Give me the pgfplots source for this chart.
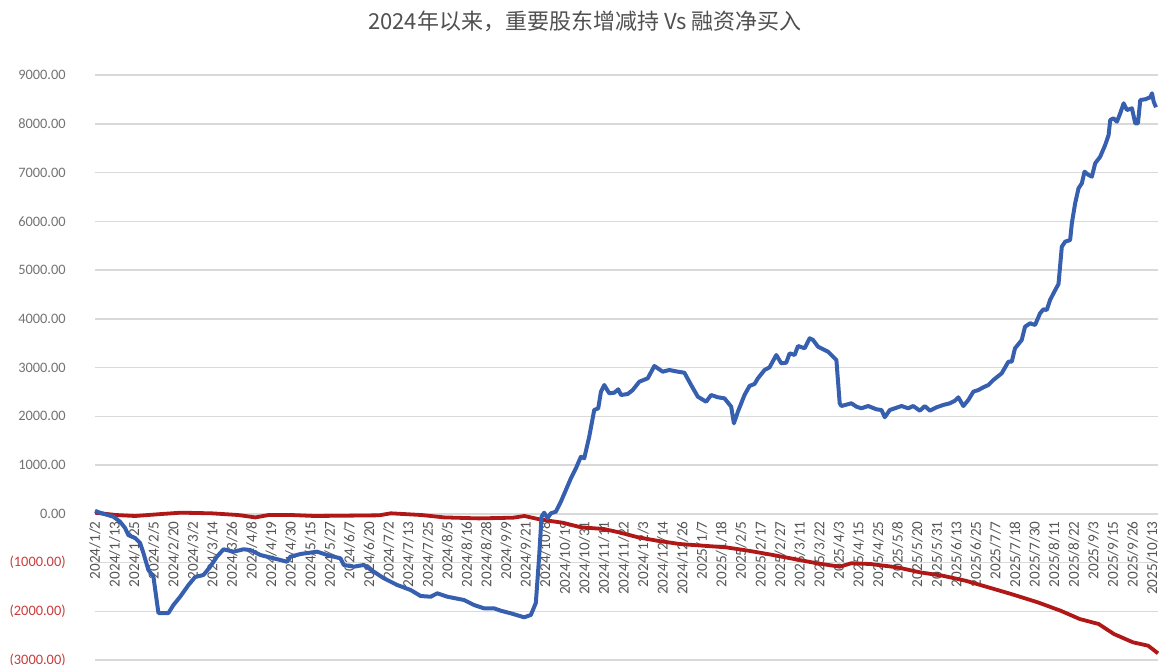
\documentclass[border=0pt]{standalone}
\usepackage{pgfplots}
\pgfplotsset{compat=1.18}
\usepackage{fontspec}
\setmainfont{Carlito}
\newfontfamily\cjk{Noto Sans CJK SC}
\definecolor{bluel}{RGB}{55,95,175}
\definecolor{redl}{RGB}{176,24,24}
\definecolor{gridc}{RGB}{217,217,217}
\definecolor{labg}{RGB}{115,115,115}
\definecolor{labx}{RGB}{85,85,85}
\definecolor{labr}{RGB}{200,60,60}
\definecolor{titleg}{RGB}{80,80,80}
\begin{document}
\begin{tikzpicture}
\path[use as bounding box] (0,0) rectangle (585bp,332.5bp);
\node[font=\cjk\fontsize{11bp}{13bp}\selectfont, text=titleg] at (292.5bp,322bp) {2024年以来，重要股东增减持 Vs 融资净买入};
\begin{axis}[
  at={(47.5bp,2.5bp)}, anchor=south west,
  scale only axis, width=531.5bp, height=292.5bp,
  xmin=0, xmax=54.3, ymin=-3000, ymax=9000,
  enlargelimits=false,
  axis x line=middle, axis y line=left,
  hide obscured x ticks=false,
  axis line style={-, draw=none},
  tick style={draw=none},
  ymajorgrids, grid style={gridc, line width=0.75bp},
  ytick={-3000,-2000,...,9000},
  yticklabels={\textcolor{labr}{(3000.00)},\textcolor{labr}{(2000.00)},\textcolor{labr}{(1000.00)},0.00,1000.00,2000.00,3000.00,4000.00,5000.00,6000.00,7000.00,8000.00,9000.00},
  yticklabel style={font=\fontsize{7.2bp}{8bp}\selectfont, text=labg, anchor=east, xshift=-9bp},
  xtick={0,1,...,54},
  xticklabels={2024/1/2,2024/1/13,2024/1/25,2024/2/5,2024/2/20,2024/3/2,2024/3/14,2024/3/26,2024/4/8,2024/4/19,2024/4/30,2024/5/15,2024/5/27,2024/6/7,2024/6/20,2024/7/2,2024/7/13,2024/7/25,2024/8/5,2024/8/16,2024/8/28,2024/9/9,2024/9/21,2024/10/8,2024/10/19,2024/10/31,2024/11/11,2024/11/22,2024/12/3,2024/12/14,2024/12/26,2025/1/7,2025/1/18,2025/2/5,2025/2/17,2025/2/27,2025/3/11,2025/3/22,2025/4/3,2025/4/15,2025/4/25,2025/5/8,2025/5/20,2025/5/31,2025/6/13,2025/6/25,2025/7/7,2025/7/18,2025/7/30,2025/8/11,2025/8/22,2025/9/3,2025/9/15,2025/9/26,2025/10/13},
  xticklabel style={font=\fontsize{7.6bp}{8bp}\selectfont, text=labx, rotate=90, anchor=east, inner sep=1.5bp},
  clip=false,
]
% 重要股东增减持 (red)
\addplot[redl, line width=1.9bp, line join=round] coordinates {
(0,22) (1.075,-26) (2.047,-46) (3.413,-5) (4.386,22) (5.947,9) (7.313,-26) (8.188,-75) (8.874,-26) (10.041,-26) (11.208,-46) (12.774,-40) (14.524,-32) (15.113,9) (16.674,-26) (17.84,-75) (19.596,-95) (21.351,-81) (21.935,-46) (22.718,-116) (23.884,-184) (24.821,-278) (25.988,-313) (26.766,-381) (27.738,-483) (28.71,-553) (29.877,-621) (31.044,-655) (32.211,-688) (33.378,-758) (34.545,-840) (35.711,-928) (36.878,-1016) (38.045,-1086) (38.628,-1016) (39.601,-1031) (40.962,-1098) (42.129,-1201) (43.296,-1271) (44.463,-1373) (45.63,-1509) (46.796,-1646) (48.158,-1817) (49.325,-1989) (50.297,-2159) (51.269,-2262) (52.047,-2467) (53.019,-2637) (53.797,-2707) (54.3,-2863)
};
% 融资净买入 (blue)
\addplot[bluel, line width=2bp, line join=round] coordinates {
(0,60) (0.256,20) (0.937,-60) (1.279,-163) (1.535,-292) (1.704,-436) (2.047,-497) (2.303,-600) (2.472,-805) (2.728,-1154) (2.984,-1291) (3.24,-2036) (3.751,-2036) (4.007,-1872) (4.35,-1702) (4.775,-1462) (5.118,-1297) (5.542,-1256) (5.885,-1086) (6.228,-881) (6.566,-729) (7.078,-778) (7.59,-729) (7.932,-744) (8.444,-846) (9.125,-914) (9.811,-984) (9.98,-881) (10.491,-826) (11.346,-778) (11.858,-846) (12.538,-914)
(12.707,-1051) (13.219,-1086) (13.731,-1051) (14.243,-1189) (14.754,-1324) (15.44,-1462) (16.121,-1564) (16.633,-1687) (17.144,-1702) (17.487,-1632) (17.999,-1702) (18.849,-1769) (19.36,-1872) (19.872,-1940) (20.384,-1940) (20.727,-1989) (21.238,-2042) (21.919,-2124) (22.262,-2077) (22.518,-1831) (22.687,-881) (22.81,-60) (22.943,22) (23.117,-93) (23.285,9) (23.541,42) (23.797,247) (24.053,487) (24.309,727) (24.565,932) (24.821,1170) (24.99,1137) (25.246,1581) (25.501,2128) (25.706,2163) (25.844,2504) (26.013,2641) (26.269,2471) (26.525,2483) (26.73,2553) (26.868,2436) (27.211,2456) (27.467,2538) (27.805,2709) (28.234,2778) (28.572,3031) (29.002,2914) (29.34,2949) (29.77,2914) (30.107,2893) (30.45,2641) (30.793,2401) (31.218,2298) (31.474,2436) (31.817,2389) (32.154,2368) (32.497,2196) (32.636,1855) (32.84,2093) (33.178,2436) (33.434,2621) (33.69,2662) (33.864,2779) (34.202,2949) (34.458,3004) (34.8,3257) (35.056,3086) (35.312,3099) (35.481,3291) (35.737,3257) (35.911,3441) (36.249,3394) (36.505,3599) (36.679,3564) (36.935,3427) (37.446,3324) (37.871,3154) (38.04,2266) (38.127,2210) (38.639,2266) (38.895,2196) (39.15,2163) (39.493,2210) (39.918,2142) (40.174,2128) (40.343,1979) (40.599,2128) (40.855,2163) (41.197,2210) (41.54,2163) (41.796,2210) (42.134,2114) (42.39,2210) (42.646,2114) (42.989,2184) (43.332,2231) (43.669,2266) (43.925,2319) (44.099,2389) (44.355,2210) (44.611,2333) (44.867,2504) (45.123,2538) (45.379,2594) (45.635,2641) (45.891,2744) (46.315,2881) (46.658,3119) (46.827,3119) (46.996,3394) (47.339,3564) (47.508,3837) (47.764,3907) (48.019,3872) (48.275,4112) (48.449,4194) (48.618,4180) (48.787,4385) (48.961,4522) (49.217,4713) (49.386,5478) (49.555,5581) (49.811,5615) (49.898,5958) (50.067,6368) (50.24,6676) (50.409,6779) (50.547,7017) (50.752,6949) (50.921,6914) (51.09,7189) (51.346,7324) (51.602,7564) (51.776,7769) (51.858,8077) (52.032,8112) (52.201,8042) (52.37,8215) (52.544,8420) (52.712,8282) (52.968,8317) (53.137,8009) (53.275,8009) (53.393,8487) (53.649,8502) (53.905,8543) (53.992,8625) (54.079,8452) (54.197,8338)
};
\end{axis}
\end{tikzpicture}
\end{document}
